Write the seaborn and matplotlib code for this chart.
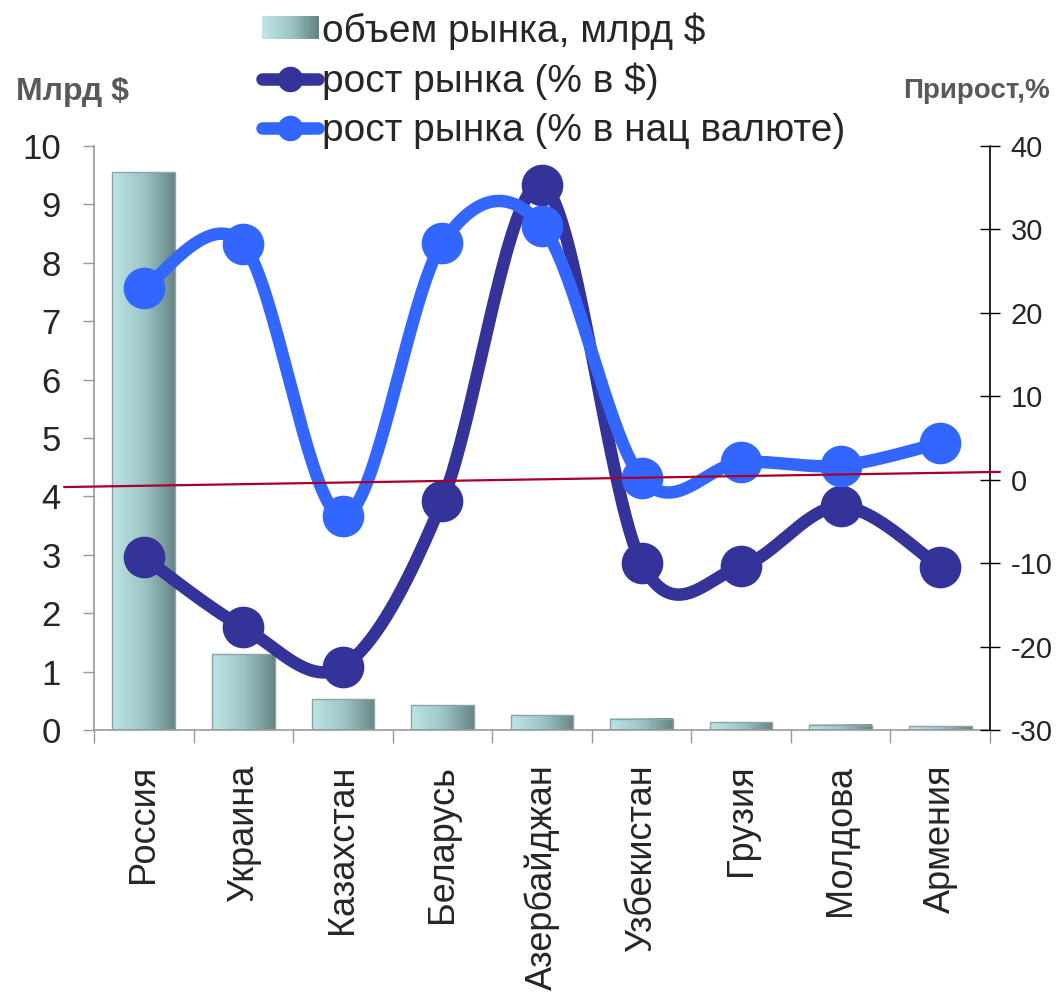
import numpy as np
import matplotlib
matplotlib.use('Agg')
import matplotlib.pyplot as plt
import seaborn as sns
from matplotlib.colors import LinearSegmentedColormap
from matplotlib.patches import Patch, Rectangle
from matplotlib.lines import Line2D
from matplotlib.legend_handler import HandlerBase

# ── data ────────────────────────────────────────────────────────────────
countries = ['Россия', 'Украина', 'Казахстан', 'Беларусь', 'Азербайджан',
             'Узбекистан', 'Грузия', 'Молдова', 'Армения']
market_volume = [9.55, 1.3, 0.53, 0.42, 0.25, 0.19, 0.13, 0.09, 0.06]      # млрд $
growth_usd = [-9.3, -17.7, -22.4, -2.5, 35.3, -10.0, -10.4, -3.2, -10.5]    # %
growth_local = [23.0, 28.2, -4.4, 28.4, 30.4, 0.2, 2.1, 1.7, 4.4]          # %
trend_x = [-0.8, 8.6]        # red reference line, left-axis units
trend_y = [4.16, 4.42]

label_bar = 'объем рынка, млрд $'
label_usd = 'рост рынка (% в $)'
label_loc = 'рост рынка (% в нац валюте)'

DARK = '#333399'
LIGHT = '#3366FF'
RED = '#A8002A'
bar_cmap = LinearSegmentedColormap.from_list('bar', ['#BDE5E6', '#9EC6C7', '#678485'])


def smooth(xs, ys, n=40):
    """Excel-like smoothed line (Catmull-Rom Bezier through the points)."""
    pts = np.column_stack([xs, ys]).astype(float)
    P = np.vstack([pts[0], pts, pts[-1]])
    t = np.linspace(0, 1, n)[:, None]
    out = []
    for i in range(1, len(P) - 2):
        p0, p1, p2, p3 = P[i - 1], P[i], P[i + 1], P[i + 2]
        c1 = p1 + (p2 - p0) / 6
        c2 = p2 - (p3 - p1) / 6
        seg = (1 - t) ** 3 * p1 + 3 * (1 - t) ** 2 * t * c1 + 3 * (1 - t) * t ** 2 * c2 + t ** 3 * p2
        out.append(seg if i == 1 else seg[1:])
    return np.vstack(out)


class GradientHandler(HandlerBase):
    def create_artists(self, legend, orig, xd, yd, w, h, fontsize, trans):
        n = 24
        return [Rectangle((-xd + i * w / n, -yd), w / n + 0.3, h,
                          facecolor=bar_cmap(i / (n - 1)), edgecolor='none',
                          transform=trans) for i in range(n)]


sns.set_style('white')
plt.rcParams['font.family'] = ['Liberation Sans', 'DejaVu Sans']
plt.rcParams['axes.unicode_minus'] = False

fig = plt.figure(figsize=(10.63, 9.97), dpi=100)
ax = fig.add_axes([94 / 1063, 1 - 730 / 997, (990 - 94) / 1063, (730 - 146) / 997])

# ── bars (left axis) ────────────────────────────────────────────────────
sns.barplot(x=countries, y=market_volume, ax=ax, width=0.63,
            color='#9EC6C7', edgecolor='#8EA3A4', linewidth=1.0, saturation=1)
grad = np.linspace(0, 1, 256).reshape(1, -1)
for p in ax.patches:
    x0, w, h = p.get_x(), p.get_width(), p.get_height()
    ax.imshow(grad, extent=[x0, x0 + w, 0, h], origin='lower', aspect='auto',
              cmap=bar_cmap, zorder=1.5, interpolation='bilinear')
    p.set_facecolor('none')
    p.set_zorder(2)

ax.set_xlim(-0.5, 8.5)
ax.set_ylim(0, 10)
ax.set_yticks(range(0, 11))
ax.tick_params(axis='y', labelsize=25, length=8, width=1, color='#999999',
               direction='out', pad=16, left=True)
ax.set_xticks(np.arange(-0.5, 9, 1))
ax.set_xticklabels([])
ax.set_xticks(range(len(countries)), minor=True)
ax.set_xticklabels(countries, minor=True, rotation=90, fontsize=26, va='top')
ax.tick_params(axis='x', which='major', length=9, width=1, color='#999999',
               direction='out', bottom=True)
ax.tick_params(axis='x', which='minor', length=0, pad=25)
for s in ['top', 'right']:
    ax.spines[s].set_visible(False)
for s in ['left', 'bottom']:
    ax.spines[s].set_color('#999999')
    ax.spines[s].set_linewidth(1.2)

# ── lines (right axis) ──────────────────────────────────────────────────
ax2 = ax.twinx()
ax2.set_ylim(-30, 40)
ax2.set_yticks(range(-30, 41, 10))
ax2.tick_params(axis='y', labelsize=21, length=14, width=1, color='black',
                direction='inout', pad=8)
for s in ['top', 'left', 'bottom']:
    ax2.spines[s].set_visible(False)
ax2.spines['right'].set_color('black')
ax2.spines['right'].set_linewidth(1.2)

xpos = np.arange(len(countries))
for vals, col, z in [(growth_usd, DARK, 3), (growth_local, LIGHT, 4)]:
    curve = smooth(xpos, vals)
    ax2.plot(curve[:, 0], curve[:, 1], color=col, lw=9, solid_capstyle='round', zorder=z)
    ax2.plot(xpos, vals, linestyle='none', marker='o', markersize=29,
             color=col, markeredgecolor=col, zorder=z)

ax2.plot(trend_x, trend_y, color=RED, lw=1.6, transform=ax.transData,
         clip_on=False, zorder=6)

# ── legend and axis titles ──────────────────────────────────────────────
h_bar = Patch(facecolor='#9EC6C7')
h_usd = Line2D([], [], color=DARK, lw=9, marker='o', markersize=29)
h_loc = Line2D([], [], color=LIGHT, lw=9, marker='o', markersize=29)
fig.legend([h_bar, h_usd, h_loc], [label_bar, label_usd, label_loc],
           handler_map={h_bar: GradientHandler()},
           loc='upper left', bbox_to_anchor=(262 / 1063, 1 - 12 / 997),
           frameon=False, fontsize=28, handlelength=1.45, handleheight=0.55,
           handletextpad=0.1, labelspacing=0.33, borderpad=0, borderaxespad=0,
           markerscale=0.6, numpoints=1)

fig.text(16 / 1063, 1 - 100 / 997, 'Млрд $', fontsize=23, fontweight='bold',
         color='#595959', va='baseline', ha='left')
fig.text(1050 / 1063, 1 - 98 / 997, 'Прирост,%', fontsize=20, fontweight='bold',
         color='#595959', va='baseline', ha='right')

fig.savefig('out.png', dpi=100)
